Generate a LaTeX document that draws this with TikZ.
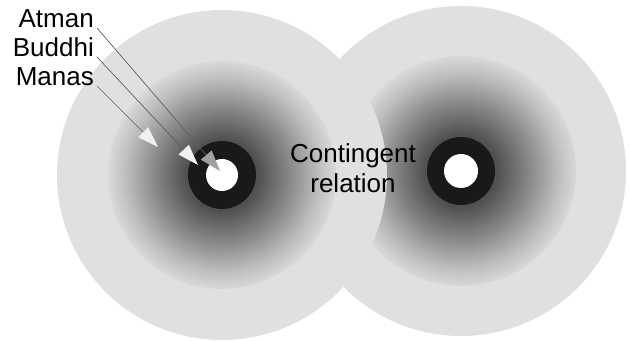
\documentclass[tikz,border=0pt]{standalone}
\usepackage{fontspec}
\setmainfont{Liberation Sans}
\usetikzlibrary{arrows.meta,positioning}
\definecolor{diskgray}{RGB}{224,224,224}
\definecolor{ringblack}{RGB}{26,24,24}
\definecolor{tipgray}{RGB}{160,160,160}
\definecolor{tipwhite}{RGB}{240,240,240}
\definecolor{leadgray}{RGB}{95,95,95}
\pgfdeclareradialshading{coreglow}{\pgfpoint{0bp}{0bp}}{%
  color(0bp)=(black!75); color(8bp)=(black!68); color(15bp)=(black!46);
  color(21bp)=(black!26); color(25bp)=(black!15); color(50bp)=(black!15)}

\begin{document}
\begin{tikzpicture}[x=1pt, y=1pt, >=Latex,
  every node/.style={font=\fontsize{26}{29.5}\selectfont, inner sep=3pt},
  label/.style={anchor=base east},
  lead/.style={draw=leadgray, line width=0.7pt},
  bigdisk/.style={fill=diskgray},
  glow/.style={shading=coreglow}]
\useasboundingbox (0,0) rectangle (629,340);
% right self
\fill[bigdisk] (461,169) circle[radius=165];
\shade[glow] (461,169) circle[radius=115];
\fill[ringblack] (461,169) circle[radius=34];
\fill[white] (461,169) circle[radius=17];
% left self, drawn over the right one
\fill[bigdisk] (222,165) circle[radius=165];
\shade[glow] (222,165) circle[radius=114];
\fill[ringblack] (222,165) circle[radius=34];
\fill[white] (222,165) circle[radius=16];
% labels
\node[label] (atman) at (97,312) {Atman};
\node[label] (buddhi) at (97,283) {Buddhi};
\node[label] (manas) at (97,254) {Manas};
\node[align=center] (contingent) at (353,172) {Contingent\\relation};
% arrow tips
\coordinate (atip) at (220,169);
\coordinate (btip) at (198,175);
\coordinate (mtip) at (158,193);
\draw[lead, -{Triangle[length=21pt,width=14pt,color=tipgray]}] (atman.base east) -- (atip);
\draw[lead, -{Triangle[length=21pt,width=14pt,color=tipwhite]}] (buddhi.base east) -- (btip);
\draw[lead, -{Triangle[length=21pt,width=14pt,color=tipwhite]}] (manas.base east) -- (mtip);
\end{tikzpicture}
\end{document}
